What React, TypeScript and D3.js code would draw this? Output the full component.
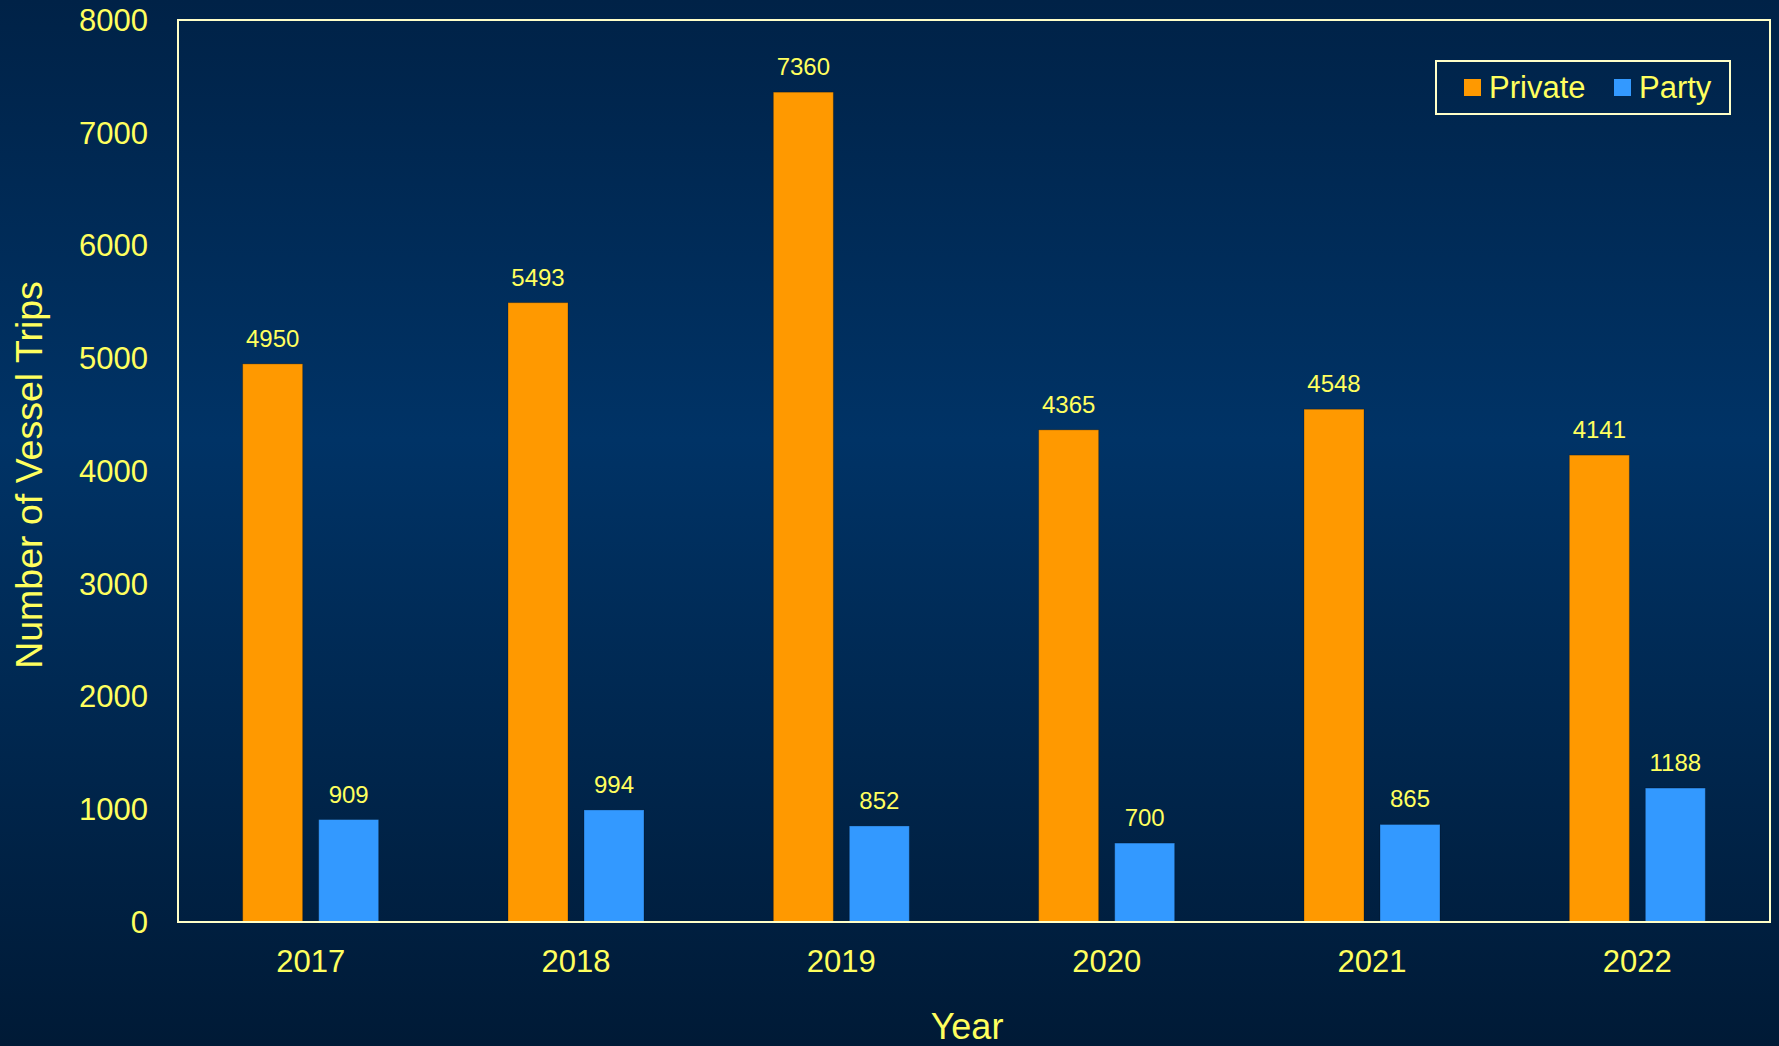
import React from "react";
import * as d3 from "d3";

const years = ["2017", "2018", "2019", "2020", "2021", "2022"];
const privateTrips = [4950, 5493, 7360, 4365, 4548, 4141];
const partyTrips = [909, 994, 852, 700, 865, 1188];
const yTicks = [0, 1000, 2000, 3000, 4000, 5000, 6000, 7000, 8000];
const seriesNames = ["Private", "Party"];

const W = 1779;
const H = 1046;
const M = { left: 178, top: 20, right: 1770, bottom: 922 };
const TEXT = "#ffff5e";
const FRAME = "#ffffc8";
const COLORS = ["#ff9900", "#3399ff"];
const FONT = "Liberation Sans, Arial, sans-serif";

export default function App() {
  const x = d3.scaleBand<string>().domain(years).range([M.left, M.right]).padding(0);
  const y = d3.scaleLinear().domain([0, 8000]).range([M.bottom, M.top]);
  const barW = 60;
  const offsets = [-38, 38];
  const series = [privateTrips, partyTrips];

  return (
    <svg width={W} height={H} style={{ position: "absolute", left: 0, top: 0, display: "block" }} fontFamily={FONT}>
      <defs>
        <linearGradient id="bg" x1="0" y1="0" x2="0" y2="1">
          <stop offset="0" stopColor="#002247" />
          <stop offset="0.42" stopColor="#003366" />
          <stop offset="1" stopColor="#001a36" />
        </linearGradient>
      </defs>
      <rect x={0} y={0} width={W} height={H} fill="url(#bg)" />
      {series.map((vals, si) =>
        vals.map((v, i) => {
          const cx = (x(years[i]) as number) + x.bandwidth() / 2 + offsets[si];
          return (
            <g key={`${si}-${i}`}>
              <rect
                x={cx - barW / 2}
                y={y(v)}
                width={barW}
                height={y(0) - y(v)}
                fill={COLORS[si]}
                stroke="rgba(0,0,0,0.25)"
                strokeWidth={1}
              />
              <text x={cx} y={y(v) - 17} fill={TEXT} fontSize={24} textAnchor="middle">
                {v}
              </text>
            </g>
          );
        })
      )}
      <rect
        x={M.left}
        y={M.top}
        width={M.right - M.left}
        height={M.bottom - M.top}
        fill="none"
        stroke={FRAME}
        strokeWidth={2}
      />
      {yTicks.map((t) => (
        <text key={t} x={148} y={y(t)} dy="0.35em" fill={TEXT} fontSize={31} textAnchor="end">
          {t}
        </text>
      ))}
      {years.map((yr) => (
        <text
          key={yr}
          x={(x(yr) as number) + x.bandwidth() / 2}
          y={972}
          fill={TEXT}
          fontSize={31}
          textAnchor="middle"
        >
          {yr}
        </text>
      ))}
      <text x={967} y={1039} fill={TEXT} fontSize={36} textAnchor="middle">
        Year
      </text>
      <text
        transform={`translate(42, 475) rotate(-90)`}
        fill={TEXT}
        fontSize={37.5}
        textAnchor="middle"
      >
        Number of Vessel Trips
      </text>
      <g>
        <rect x={1436} y={61} width={294} height={53} fill="none" stroke={FRAME} strokeWidth={2} />
        {seriesNames.map((name, i) => {
          const sx = i === 0 ? 1464 : 1614;
          return (
            <g key={name}>
              <rect x={sx} y={79} width={17} height={17} fill={COLORS[i]} />
              <text x={sx + 25} y={98} fill={TEXT} fontSize={31}>
                {name}
              </text>
            </g>
          );
        })}
      </g>
    </svg>
  );
}
